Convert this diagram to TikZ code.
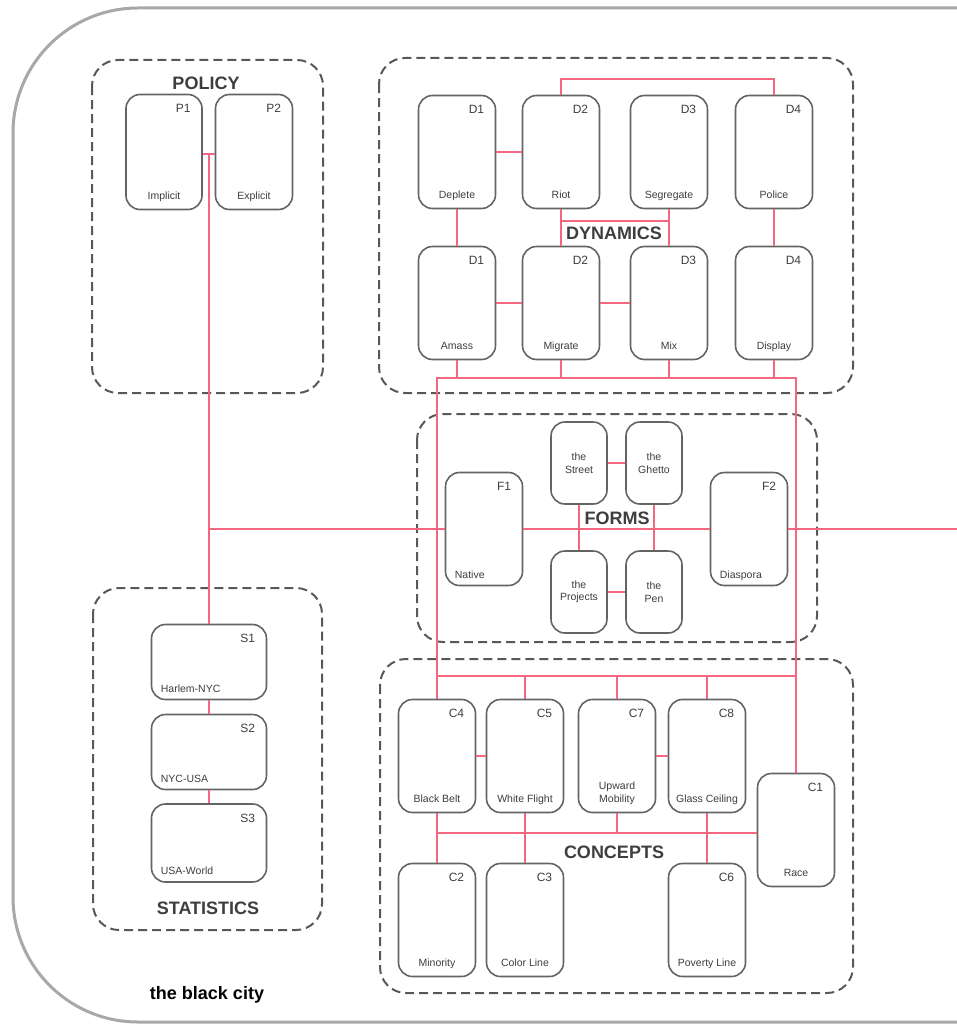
\documentclass[tikz,border=0pt]{standalone}
\usepackage{fontspec}
\setmainfont{Liberation Sans}
\definecolor{linkred}{RGB}{243,104,128}
\definecolor{boxgray}{RGB}{100,100,100}
\definecolor{framegray}{RGB}{88,88,88}
\definecolor{titlegray}{RGB}{62,62,62}
\definecolor{outergray}{RGB}{168,168,168}
\newcommand{\unitbox}[7]{% name, x, y, width, height, id, label
  \node[unit,minimum width=#4,minimum height=#5] (#1) at (#2,#3) {};
  \node[idtxt] (#1id) at ([xshift=-12pt,yshift=-15pt]#1.north east) {#6};
  \node[nametxt] (#1txt) at ([yshift=11pt]#1.south) {#7};}
\newcommand{\unitboxl}[7]{% label set to the left
  \node[unit,minimum width=#4,minimum height=#5] (#1) at (#2,#3) {};
  \node[idtxt] (#1id) at ([xshift=-12pt,yshift=-15pt]#1.north east) {#6};
  \node[nametxt,anchor=base west] (#1txt) at ([xshift=10pt,yshift=8pt]#1.south west) {#7};}
\begin{document}
\begin{tikzpicture}[x=1pt,y=-1pt,
  unit/.style={draw=boxgray,line width=1.6pt,rounded corners=14pt,fill=white,inner sep=0pt},
  formbox/.style={unit,minimum width=56pt,minimum height=82pt,text=titlegray,
    font=\fontsize{10.5}{12.5}\selectfont,align=center},
  idtxt/.style={anchor=east,inner sep=0pt,text=titlegray,font=\fontsize{12}{14}\selectfont},
  nametxt/.style={anchor=base,inner sep=0pt,text=titlegray,font=\fontsize{10.5}{12.5}\selectfont,align=center},
  group/.style={draw=framegray,line width=2pt,dash pattern=on 9pt off 5pt,rounded corners=26pt},
  grouptitle/.style={text=titlegray,font=\fontsize{18}{20}\selectfont\bfseries},
  link/.style={draw=linkred,line width=2pt}]
  \useasboundingbox (0,0) rectangle (957,1025);
  \draw[outergray,line width=3pt,rounded corners=125pt]
    (965,8) -- (13,8) -- (13,1022) -- (965,1022);

  % groups
  \draw[group] (92,60) rectangle (323,393);
  \draw[group] (379,58) rectangle (853,393);
  \draw[group] (417,414) rectangle (817,642);
  \draw[group] (93,588) rectangle (322,930);
  \draw[group] (380,659) rectangle (853,993);
  \node[grouptitle] (policyttl) at (206,83) {POLICY};
  \node[grouptitle] (dynttl) at (614,233) {DYNAMICS};
  \node[grouptitle] (formsttl) at (617,518) {FORMS};
  \node[grouptitle] (statttl) at (208,908) {STATISTICS};
  \node[grouptitle] (conttl) at (614,852) {CONCEPTS};
  \node[font=\fontsize{18}{20}\selectfont\bfseries] (cityttl) at (207,995) {the black city};

  % policy
  \unitbox{implicit}{164}{152}{76pt}{115pt}{P1}{Implicit}
  \unitbox{explicit}{254}{152}{77pt}{115pt}{P2}{Explicit}

  % dynamics
  \unitbox{deplete}{457}{152}{77pt}{113pt}{D1}{Deplete}
  \unitbox{riot}{561}{152}{77pt}{113pt}{D2}{Riot}
  \unitbox{segregate}{669}{152}{77pt}{113pt}{D3}{Segregate}
  \unitbox{police}{774}{152}{77pt}{113pt}{D4}{Police}
  \unitbox{amass}{457}{303}{77pt}{113pt}{D1}{Amass}
  \unitbox{migrate}{561}{303}{77pt}{113pt}{D2}{Migrate}
  \unitbox{mix}{669}{303}{77pt}{113pt}{D3}{Mix}
  \unitbox{display}{774}{303}{77pt}{113pt}{D4}{Display}

  % forms
  \unitboxl{native}{484}{529}{77pt}{113pt}{F1}{Native}
  \unitboxl{diaspora}{749}{529}{77pt}{113pt}{F2}{Diaspora}
  \node[formbox] (street) at (579,463) {the\\Street};
  \node[formbox] (ghetto) at (654,463) {the\\Ghetto};
  \node[formbox] (projects) at (579,592) {the\\Projects};
  \node[formbox] (pen) at (654,592) {the\\Pen};

  % statistics
  \unitboxl{harlem}{209}{662}{115pt}{75pt}{S1}{Harlem-NYC}
  \unitboxl{nyc}{209}{752}{115pt}{75pt}{S2}{NYC-USA}
  \unitboxl{usa}{209}{843}{115pt}{78pt}{S3}{USA-World}

  % concepts
  \unitbox{blackbelt}{437}{756}{77pt}{113pt}{C4}{Black Belt}
  \unitbox{whiteflight}{525}{756}{77pt}{113pt}{C5}{White Flight}
  \unitbox{upward}{617}{756}{77pt}{113pt}{C7}{Upward\\Mobility}
  \unitbox{glass}{707}{756}{77pt}{113pt}{C8}{Glass Ceiling}
  \unitbox{race}{796}{830}{77pt}{113pt}{C1}{Race}
  \unitbox{minority}{437}{920}{77pt}{113pt}{C2}{Minority}
  \unitbox{colorline}{525}{920}{77pt}{113pt}{C3}{Color Line}
  \unitbox{poverty}{707}{920}{77pt}{113pt}{C6}{Poverty Line}

  % links: policy, forms, statistics
  \coordinate (pj) at (209,154);
  \coordinate (fj) at (209,529);
  \coordinate (fout) at (957,529);
  \draw[link] (implicit.east |- pj) -- (explicit.west |- pj);
  \draw[link] (pj) -- (harlem.north);
  \draw[link] (fj) -- (native.west);
  \draw[link] (native) -- (diaspora);
  \draw[link] (diaspora.east) -- (fout);
  \draw[link] (street) -- (ghetto);
  \draw[link] (projects) -- (pen);
  \draw[link] (street) -- (projects);
  \draw[link] (ghetto) -- (pen);
  \draw[link] (harlem) -- (nyc);
  \draw[link] (nyc) -- (usa);

  % links: dynamics
  \coordinate (dmid) at (615,221);
  \coordinate (dbus) at (615,378);
  \draw[link] (deplete) -- (riot);
  \draw[link] (deplete) -- (amass);
  \draw[link] (police) -- (display);
  \draw[link] (amass) -- (migrate);
  \draw[link] (migrate) -- (mix);
  \draw[link] (riot) -- (migrate);
  \draw[link] (segregate) -- (mix);
  \draw[link] (riot.south |- dmid) -- (segregate.south |- dmid);
  \draw[link] (riot.north) -- ++(0,-16) -| (police.north);
  \draw[link] (blackbelt.north) |- (dbus) -| (race.north);
  \foreach \n in {amass,migrate,mix,display}
    \draw[link] (\n.south) -- (\n.south |- dbus);

  % links: concepts
  \coordinate (ctop) at (615,676);
  \coordinate (cbus) at (615,833);
  \draw[link] (blackbelt.north |- ctop) -- (race.north |- ctop);
  \foreach \n in {whiteflight,upward,glass}
    \draw[link] (\n.north) -- (\n.north |- ctop);
  \draw[link] (blackbelt) -- (whiteflight);
  \draw[link] (upward) -- (glass);
  \draw[link] (blackbelt.south |- cbus) -- (race.west |- cbus);
  \draw[link] (blackbelt) -- (minority);
  \draw[link] (whiteflight) -- (colorline);
  \draw[link] (glass) -- (poverty);
  \draw[link] (upward.south) -- (upward.south |- cbus);
\end{tikzpicture}
\end{document}
